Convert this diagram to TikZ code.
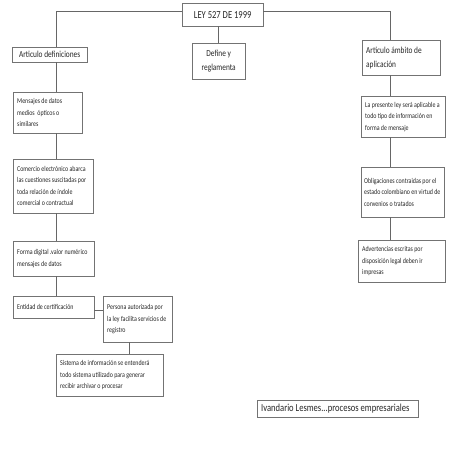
\documentclass[tikz,border=0pt]{standalone}
\usepackage{fontspec}
\setmainfont{Carlito}[FakeStretch=0.8]
\usepackage{tikz}

\tikzset{
	caja/.style={draw=black!55, fill=white, anchor=north west, inner xsep=4pt, inner ysep=0pt,
		align=flush left, text=black!85, font=\fontsize{7.4}{11.5}\selectfont},
	cajamedia/.style={caja, font=\fontsize{9.2}{14}\selectfont},
	cajagrande/.style={caja, font=\fontsize{10.7}{14}\selectfont},
	linea/.style={draw=black!60, line width=0.6pt},
}

\begin{document}
\begin{tikzpicture}[x=1pt, y=-1pt]
	\fill[white] (0,0) rectangle (453,453);
	\useasboundingbox (0,0) rectangle (453,453);

	% trunk positions
	\coordinate (tl) at (56,11);
	\coordinate (tr) at (390,11);
	\coordinate (tp) at (129,0);

	\node[cajagrande, align=flush center, text width=73pt, minimum height=23pt] (ley) at (182,3) {LEY 527 DE 1999};
	\node[cajamedia, align=flush center, text width=67pt, minimum height=15pt] (def) at (12,47) {Articulo definiciones};
	\node[cajamedia, align=flush center, text width=45pt, minimum height=36pt] (regl) at (192,43) {Define y\\reglamenta};
	\node[cajamedia, text width=70pt, minimum height=35pt] (amb) at (362,40) {Articulo ámbito de\\aplicación};

	% left column
	\node[caja, text width=61pt, minimum height=41pt] (mens) at (13,92) {Mensajes de datos\\medios \ ópticos o\\similares};
	\node[caja, text width=72pt, minimum height=54pt] (come) at (13,159) {Comercio electrónico abarca\\las cuestiones suscitadas por\\toda relación de índole\\comercial o contractual};
	\node[caja, text width=73pt, minimum height=35pt] (form) at (13,241) {Forma digital .valor numérico\\mensajes de datos};
	\node[caja, text width=73pt, minimum height=22pt] (enti) at (13,296) {Entidad de certificación};
	\node[caja, text width=61pt, minimum height=46pt] (pers) at (103,296) {Persona autorizada por\\la ley facilita servicios de\\registro};
	\node[caja, text width=99pt, minimum height=42pt] (sist) at (56,354) {Sistema de información se entenderá\\todo sistema utilizado para generar\\recibir archivar o procesar};

	% right column
	\node[caja, text width=76pt, minimum height=41pt] (pres) at (361,96) {La presente ley será aplicable a\\todo tipo de información en\\forma de mensaje};
	\node[caja, inner xsep=3pt, text width=77pt, minimum height=50pt] (obli) at (361,167) {Obligaciones contraidas por el\\estado colombiano en virtud de\\convenios o tratados\\[3pt]};
	\node[caja, text width=79pt, minimum height=42pt] (adve) at (358,240) {Advertencias escritas por\\disposición legal deben ir\\impresas};

	\node[cajagrande, text width=153pt, minimum height=17pt] (autor) at (257,400) {Ivandario Lesmes...procesos empresariales};

	\draw[linea] (ley.west |- tl) -- (tl) -- (tl |- def.north);
	\draw[linea] (ley.east |- tr) -- (tr) -- (tr |- amb.north);
	\draw[linea] (regl.north) -- (regl.north |- ley.south);
	\draw[linea] (def.south -| tl) -- (mens.north -| tl);
	\draw[linea] (mens.south -| tl) -- (come.north -| tl);
	\draw[linea] (come.south -| tl) -- (form.north -| tl);
	\draw[linea] (form.south -| tl) -- (enti.north -| tl);
	\draw[linea] ([yshift=-3pt]enti.east) -- ([yshift=-3pt]enti.east -| pers.west);
	\draw[linea] (pers.south -| tp) -- (sist.north -| tp);
	\draw[linea] (amb.south -| tr) -- (pres.north -| tr);
	\draw[linea] (pres.south -| tr) -- (obli.north -| tr);
	\draw[linea] (obli.south -| tr) -- (adve.north -| tr);
\end{tikzpicture}
\end{document}
